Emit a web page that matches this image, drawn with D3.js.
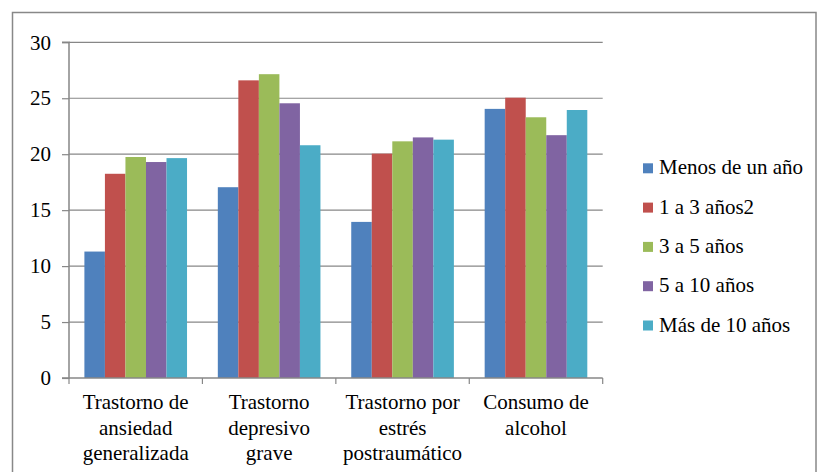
<!DOCTYPE html>
<html>
<head>
<meta charset="utf-8">
<script src="https://cdn.jsdelivr.net/npm/d3@7/dist/d3.min.js"></script>
</head>
<body style="margin:0">
<script>
const categories = [
  ["Trastorno de", "ansiedad", "generalizada"],
  ["Trastorno", "depresivo", "grave"],
  ["Trastorno por", "estrés", "postraumático"],
  ["Consumo de", "alcohol"]
];
const seriesNames = ["Menos de un año", "1 a 3 años2", "3 a 5 años", "5 a 10 años", "Más de 10 años"];
const seriesColors = ["#4F81BD", "#C0504D", "#9BBB59", "#8064A2", "#4BACC6"];
const menosDeUnAno = [11.3, 17.05, 13.95, 24.05];
const unoATres = [18.25, 26.6, 20.05, 25.05];
const tresACinco = [19.75, 27.15, 21.15, 23.3];
const cincoADiez = [19.3, 24.55, 21.5, 21.7];
const masDeDiez = [19.65, 20.8, 21.3, 23.95];
const seriesValues = [menosDeUnAno, unoATres, tresACinco, cincoADiez, masDeDiez];
const yTicks = [0, 5, 10, 15, 20, 25, 30];

(function () {
const W = 817, H = 472;
const pLeft = 69, pRight = 602.7, pTop = 42.3, pBottom = 378;
const fs = 21;
const FONT = "'Liberation Serif', monospace";

const svg = d3.select("body").append("svg").attr("width", W).attr("height", H)
  .style("display", "block");

// outer border
svg.append("rect").attr("x", 12.5).attr("y", 12.5).attr("width", 803.5).attr("height", 480)
  .attr("fill", "none").attr("stroke", "#888").attr("stroke-width", 1.5);

const catKeys = categories.map((c, i) => i);
const x0 = d3.scaleBand().domain(catKeys).range([pLeft, pRight]).padding(0);
const x1 = d3.scaleBand().domain(d3.range(seriesNames.length)).range([0, x0.bandwidth()])
  .paddingInner(0).paddingOuter(0.75);
const y = d3.scaleLinear().domain([0, 30]).range([pBottom, pTop]);

// gridlines
svg.append("g").selectAll("line").data(yTicks.filter(t => t > 0)).join("line")
  .attr("x1", pLeft).attr("x2", pRight)
  .attr("y1", d => y(d)).attr("y2", d => y(d))
  .attr("stroke", "#878787").attr("stroke-width", 1.2);

// bars
const groups = svg.append("g").selectAll("g").data(catKeys).join("g")
  .attr("transform", d => `translate(${x0(d)},0)`);
groups.selectAll("rect").data(ci => seriesValues.map((vals, si) => ({si, v: vals[ci]}))).join("rect")
  .attr("x", d => x1(d.si)).attr("width", x1.bandwidth())
  .attr("y", d => y(d.v)).attr("height", d => y(0) - y(d.v))
  .attr("fill", d => seriesColors[d.si]);

// y axis
const yAxis = d3.axisLeft(y).tickValues(yTicks).tickSize(7).tickPadding(11).tickFormat(d3.format("d"));
const gy = svg.append("g").attr("transform", `translate(${pLeft},0)`).call(yAxis);
gy.attr("font-family", FONT).attr("font-size", fs);
gy.select(".domain").attr("stroke", "#878787").attr("stroke-width", 1.5).attr("d", `M-7,${pTop}H0V${pBottom}H-7`);
gy.selectAll(".tick line").attr("stroke", "#878787").attr("stroke-width", 1.2);
gy.selectAll(".tick text").attr("font-family", FONT).attr("font-size", fs).attr("fill", "#000").attr("dy", "0.32em");

// x axis
const xEdges = d3.scaleLinear().domain([0, categories.length]).range([pLeft, pRight]);
const gx = svg.append("g");
gx.append("line").attr("x1", pLeft).attr("x2", pRight).attr("y1", pBottom).attr("y2", pBottom)
  .attr("stroke", "#878787").attr("stroke-width", 1.5);
gx.selectAll("line.tk").data(d3.range(categories.length + 1)).join("line").attr("class", "tk")
  .attr("x1", d => xEdges(d)).attr("x2", d => xEdges(d))
  .attr("y1", pBottom).attr("y2", pBottom + 6)
  .attr("stroke", "#878787").attr("stroke-width", 1.2);
const labels = gx.selectAll("text").data(catKeys).join("text")
  .attr("text-anchor", "middle").attr("font-family", FONT).attr("font-size", fs).attr("fill", "#000")
  .attr("x", d => x0(d) + x0.bandwidth() / 2).attr("y", 409);
labels.selectAll("tspan").data(d => categories[d]).join("tspan")
  .attr("x", function() { return d3.select(this.parentNode).attr("x"); })
  .attr("dy", (d, i) => i === 0 ? 0 : 25.5)
  .attr("font-family", FONT)
  .text(d => d);

// legend
const lg = svg.append("g");
const legY = d3.scaleLinear().domain([0, 1]).range([163.3, 202.6]);
const items = lg.selectAll("g").data(seriesNames).join("g")
  .attr("transform", (d, i) => `translate(643,${legY(i)})`);
items.append("rect").attr("width", 10).attr("height", 10).attr("fill", (d, i) => seriesColors[i]);
items.append("text").attr("x", 16).attr("y", 11).attr("font-family", FONT).attr("font-size", fs).attr("fill", "#000").text(d => d);
})();
</script>
</body>
</html>
